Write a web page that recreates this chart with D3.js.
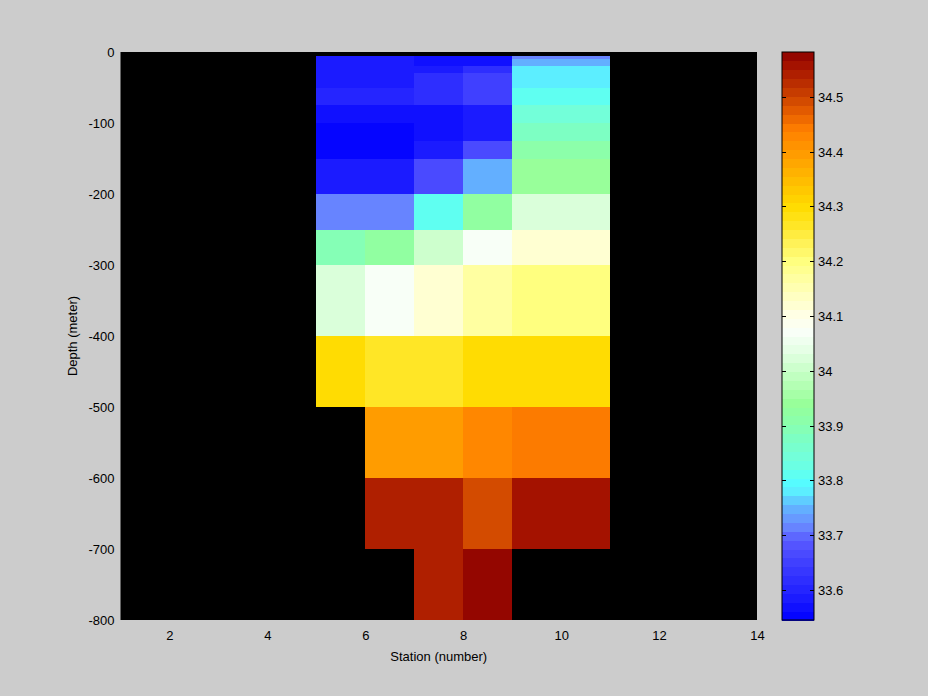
<!DOCTYPE html>
<html><head><meta charset="utf-8">
<script src="https://cdn.jsdelivr.net/npm/d3@7"></script>
<style>body{margin:0;background:#cccccc;} text{font-family:"Liberation Sans",Arial,sans-serif;font-size:13px;fill:#000;}</style>
</head><body><svg id="c" width="928" height="696"></svg>
<script>
// Station cell left edges (each cell spans station s .. s+1)
const stations = [5, 6, 7, 8, 9, 10];
// Depth levels (m, positive down); rows span depths[i]..depths[i+1]
const depths = [5, 10, 20, 30, 50, 75, 100, 125, 150, 200, 250, 300, 400, 500, 600, 700, 800];
// Salinity per station column, per depth row (null = no data)
const sal5  = [33.58, 33.58, 33.58, 33.58, 33.60, 33.57, 33.55, 33.55, 33.58, 33.72, 33.89, 34.03, 34.30, null, null, null];
const sal6  = [33.58, 33.58, 33.58, 33.59, 33.60, 33.57, 33.55, 33.55, 33.58, 33.72, 33.92, 34.07, 34.27, 34.40, 34.54, null];
const sal7  = [33.57, 33.57, 33.59, 33.62, 33.62, 33.575, 33.565, 33.59, 33.67, 33.81, 34.00, 34.12, 34.27, 34.40, 34.54, 34.54];
const sal8  = [33.565, 33.565, 33.61, 33.65, 33.65, 33.59, 33.59, 33.67, 33.75, 33.93, 34.07, 34.17, 34.30, 34.42, 34.50, 34.578];
const sal9  = [33.72, 33.75, 33.78, 33.78, 33.82, 33.84, 33.87, 33.91, 33.95, 34.03, 34.12, 34.20, 34.30, 34.44, 34.56, null];
const sal10 = [33.72, 33.75, 33.78, 33.78, 33.82, 33.84, 33.87, 33.91, 33.95, 34.03, 34.12, 34.20, 34.30, 34.44, 34.56, null];
const salinity = [sal5, sal6, sal7, sal8, sal9, sal10];

const xTicks = [2, 4, 6, 8, 10, 12, 14];
const yTicks = [0, -100, -200, -300, -400, -500, -600, -700, -800];
const cTicks = [33.6, 33.7, 33.8, 33.9, 34, 34.1, 34.2, 34.3, 34.4, 34.5];
const cRange = [33.545, 34.582];
// colormap anchors
const cmapVals = [33.545, 33.60, 33.65, 33.69, 33.72, 33.75, 33.78, 33.80, 33.82, 33.84, 33.87, 33.91, 33.94, 33.97, 34.00, 34.03, 34.07, 34.10, 34.13, 34.17, 34.20, 34.24, 34.27, 34.30, 34.35, 34.40, 34.44, 34.47, 34.50, 34.54, 34.56, 34.582];
const cmapCols = ["#0000ff","#2424ff","#4040ff","#5858ff","#6a8cff","#62b2ff","#5ceeff","#55ffff","#66ffe8","#72ffdc","#7affc8","#8cffaa","#96ff98","#b0ffb0","#c8ffc8","#e0ffe0","#f8fff8","#ffffe8","#ffffc8","#ffffa0","#ffff80","#fff050","#ffe520","#ffdc00","#ffbb00","#ff9900","#ff8000","#e86000","#cc4400","#b02000","#a31000","#8b0000"];

const N = 64;
const svg = d3.select("#c");
svg.append("rect").attr("width", 928).attr("height", 696).attr("fill", "#cccccc");

const L = 120.5, R = 757, T = 52, B = 620;
const x = d3.scaleLinear().domain([1, 14]).range([L, R]);
const y = d3.scaleLinear().domain([0, -800]).range([T, B]);
const cmap = d3.scaleLinear().domain(cmapVals).range(cmapCols).interpolate(d3.interpolateRgb).clamp(true);
const step = (cRange[1] - cRange[0]) / N;
const bins = d3.range(N).map(i => cmap(cRange[0] + (i + 0.5) * step));
const colorOf = v => bins[Math.max(0, Math.min(N - 1, Math.floor((v - cRange[0]) / step)))];

// plot background
svg.append("rect").attr("x", L).attr("y", T).attr("width", R - L).attr("height", B - T).attr("fill", "#000");

const cells = [];
stations.forEach((s, ci) => {
  salinity[ci].forEach((v, ri) => {
    if (v !== null) cells.push({s, d0: depths[ri], d1: depths[ri + 1], v});
  });
});
svg.append("g").selectAll("rect").data(cells).join("rect")
  .attr("x", d => x(d.s)).attr("width", d => x(d.s + 1) - x(d.s))
  .attr("y", d => y(-d.d0)).attr("height", d => y(-d.d1) - y(-d.d0))
  .attr("fill", d => colorOf(d.v)).attr("shape-rendering", "crispEdges");

// axes
const xa = svg.append("g").attr("transform", `translate(0,${B})`)
  .call(d3.axisBottom(x).tickValues(xTicks).tickSize(0).tickPadding(11).tickFormat(d3.format("d")));
const ya = svg.append("g").attr("transform", `translate(${L},0)`)
  .call(d3.axisLeft(y).tickValues(yTicks).tickSize(0).tickPadding(6).tickFormat(d => d === 0 ? "0" : "-" + Math.abs(d)));
[xa, ya].forEach(a => { a.select(".domain").remove(); a.selectAll("text").style("font-family", '"Liberation Sans",Arial,sans-serif').style("font-size", "13px").attr("fill", "#000"); });

svg.append("text").attr("x", (L + R) / 2).attr("y", 661).attr("text-anchor", "middle").text("Station (number)");
svg.append("text").attr("transform", `translate(77,${(T + B) / 2}) rotate(-90)`).attr("text-anchor", "middle").text("Depth (meter)");

// colorbar
const CL = 782, CR = 814;
const cy = d3.scaleLinear().domain(cRange).range([B, T]);
svg.append("g").selectAll("rect").data(bins).join("rect")
  .attr("x", CL).attr("width", CR - CL)
  .attr("y", (c, i) => cy(cRange[0] + (i + 1) * step))
  .attr("height", (c, i) => cy(cRange[0] + i * step) - cy(cRange[0] + (i + 1) * step) + 0.5)
  .attr("fill", c => c).attr("shape-rendering", "crispEdges");
svg.append("rect").attr("x", CL).attr("y", T).attr("width", CR - CL).attr("height", B - T)
  .attr("fill", "none").attr("stroke", "#000").attr("stroke-width", 1);
const ct = svg.append("g");
cTicks.forEach(t => {
  const yy = Math.round(cy(t)) + 0.5;
  ct.append("line").attr("x1", CL).attr("x2", CL + 4).attr("y1", yy).attr("y2", yy).attr("stroke", "#000");
  ct.append("line").attr("x1", CR - 4).attr("x2", CR).attr("y1", yy).attr("y2", yy).attr("stroke", "#000");
  ct.append("text").attr("x", CR + 4).attr("y", yy).attr("dy", "0.35em").text(d3.format("")(t));
});
</script></body></html>
